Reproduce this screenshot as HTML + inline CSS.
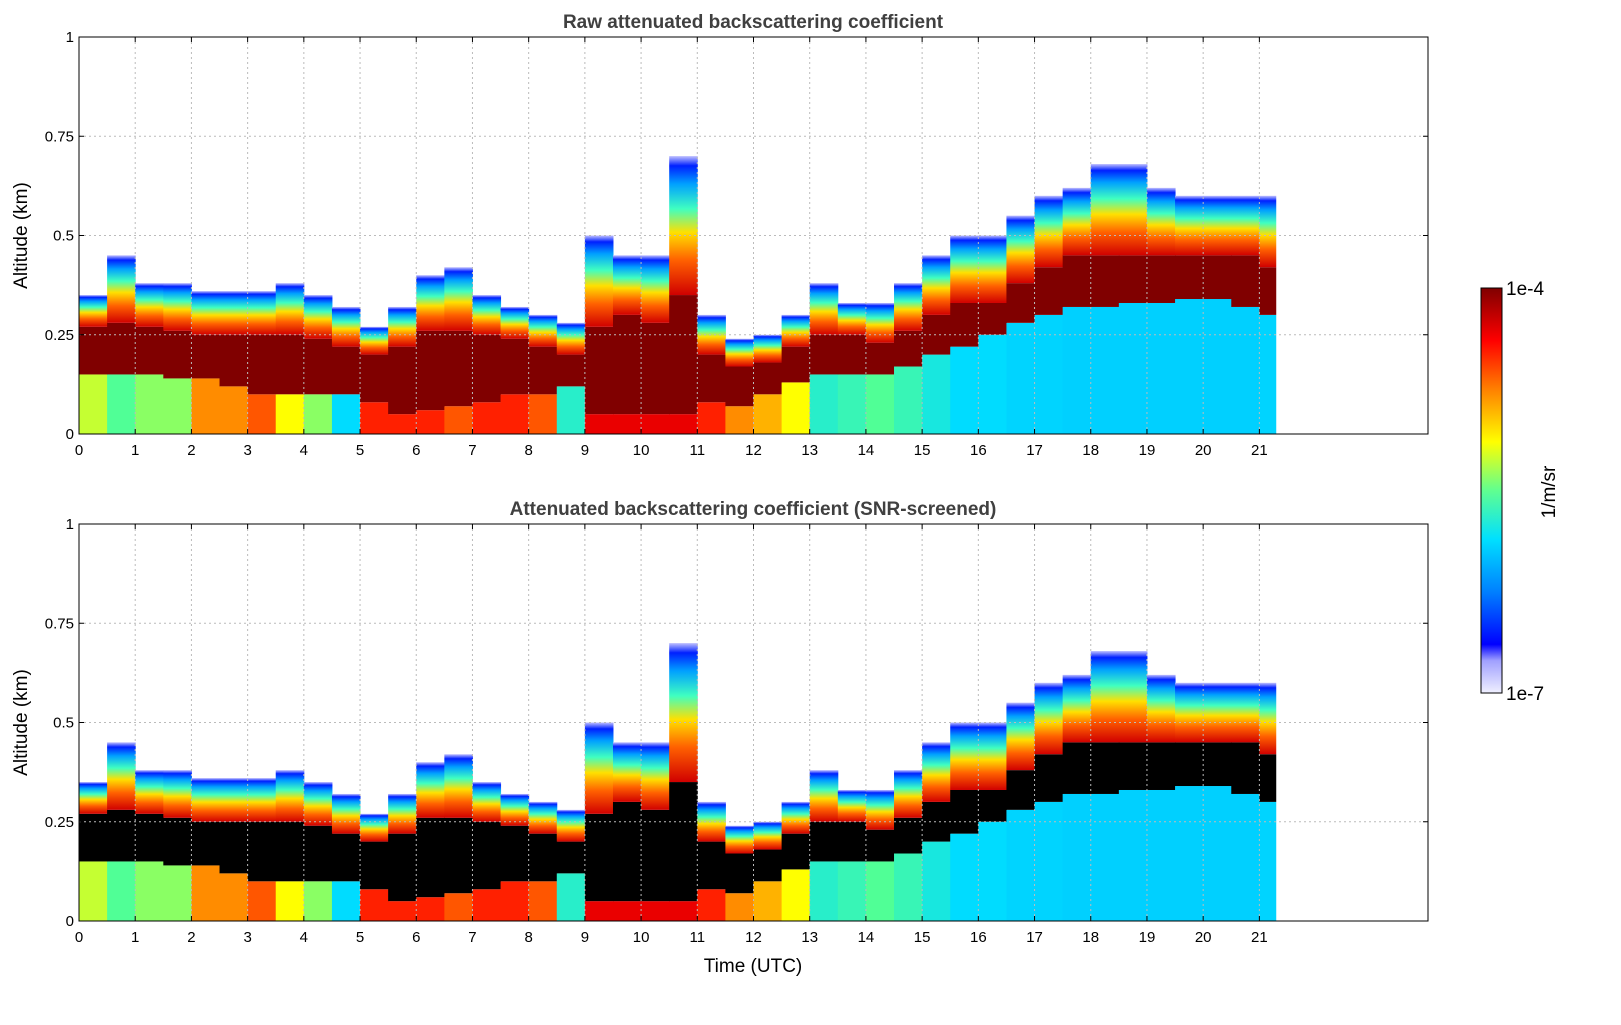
<!DOCTYPE html>
<html><head><meta charset="utf-8"><style>
body{margin:0;background:#fff;}
text{font-family:"Liberation Sans","DejaVu Sans",sans-serif;}
</style></head><body>
<svg id="chart" width="1621" height="1020" xmlns="http://www.w3.org/2000/svg">
<defs>
<linearGradient id="plume" x1="0" y1="1" x2="0" y2="0">
<stop offset="0" stop-color="#d00000"/><stop offset="0.25" stop-color="#ff6000"/>
<stop offset="0.45" stop-color="#ffe000"/><stop offset="0.62" stop-color="#40ffc0"/>
<stop offset="0.8" stop-color="#00a0ff"/><stop offset="0.93" stop-color="#0020ff"/>
<stop offset="1" stop-color="#c0c0ff"/></linearGradient>
<linearGradient id="cbar" x1="0" y1="1" x2="0" y2="0">
<stop offset="0" stop-color="#f0f0ff"/><stop offset="0.08" stop-color="#a0a0ff"/>
<stop offset="0.12" stop-color="#0000ff"/><stop offset="0.25" stop-color="#0080ff"/>
<stop offset="0.38" stop-color="#00e0ff"/><stop offset="0.5" stop-color="#60ff90"/>
<stop offset="0.62" stop-color="#ffff00"/><stop offset="0.75" stop-color="#ff8000"/>
<stop offset="0.87" stop-color="#ff0000"/><stop offset="1" stop-color="#800000"/></linearGradient>
</defs>
</svg>
<script>
const times=[0,0.5,1,1.5,2,2.5,3,3.5,4,4.5,5,5.5,6,6.5,7,7.5,8,8.5,9,9.5,10,10.5,11,11.5,12,12.5,13,13.5,14,14.5,15,15.5,16,16.5,17,17.5,18,18.5,19,19.5,20,20.5,21];
const layerTop=[.35,.45,.38,.38,.36,.36,.36,.38,.35,.32,.27,.32,.4,.42,.35,.32,.3,.28,.5,.45,.45,.7,.3,.24,.25,.3,.38,.33,.33,.38,.45,.5,.5,.55,.6,.62,.68,.68,.62,.6,.6,.6,.6];
const coreTop=[.27,.28,.27,.26,.25,.25,.25,.25,.24,.22,.2,.22,.26,.26,.25,.24,.22,.2,.27,.3,.28,.35,.2,.17,.18,.22,.25,.25,.23,.26,.3,.33,.33,.38,.42,.45,.45,.45,.45,.45,.45,.45,.42];
const coreBot=[.15,.15,.15,.14,.14,.12,.1,.1,.1,.1,.08,.05,.06,.07,.08,.1,.1,.12,.05,.05,.05,.05,.08,.07,.1,.13,.15,.15,.15,.17,.2,.22,.25,.28,.3,.32,.32,.33,.33,.34,.34,.32,.3];
const lowVal=[.55,.45,.5,.5,.75,.75,.8,.6,.5,.35,.85,.85,.85,.8,.85,.85,.8,.4,.9,.9,.9,.9,.85,.75,.7,.6,.4,.42,.45,.42,.38,.35,.35,.33,.33,.32,.32,.32,.32,.32,.32,.32,.33];
const xTicks=[0,1,2,3,4,5,6,7,8,9,10,11,12,13,14,15,16,17,18,19,20,21];
const yTicks=[0,0.25,0.5,0.75,1];
const yTickLabels=["0","0.25","0.5","0.75","1"];
const svg=document.getElementById('chart');
const NS='http://www.w3.org/2000/svg';
const X0=79,X1=1428;
const xs=t=>X0+(X1-X0)*t/24;
function mk(tag,attrs,parent){const e=document.createElementNS(NS,tag);for(const k in attrs)e.setAttribute(k,attrs[k]);(parent||svg).appendChild(e);return e;}
function jet(v){const stops=[[0,[0,0,255]],[.2,[0,160,255]],[.35,[0,220,255]],[.45,[80,255,150]],[.6,[255,255,0]],[.75,[255,140,0]],[.88,[255,0,0]],[1,[128,0,0]]];
for(let i=1;i<stops.length;i++){if(v<=stops[i][0]){const a=stops[i-1],b=stops[i],f=(v-a[0])/(b[0]-a[0]);return 'rgb('+a[1].map((c,j)=>Math.round(c+(b[1][j]-c)*f)).join(',')+')';}}return 'rgb(128,0,0)';}
function panel(Y0,Y1,title,coreColor,name){
  const ys=a=>Y1-(Y1-Y0)*a;
  const g=mk('g',{});
  const w=xs(0.5)-xs(0);
  for(let i=0;i<times.length;i++){
    const x=xs(times[i]);const cw=(i==times.length-1)?xs(21.3)-x:w+0.5;
    let r=mk('rect',{x:x,y:ys(coreBot[i]),width:cw,height:ys(0)-ys(coreBot[i]),fill:jet(lowVal[i])},g);
    
    r=mk('rect',{x:x,y:ys(coreTop[i]),width:cw,height:ys(coreBot[i])-ys(coreTop[i]),fill:coreColor},g);
    
    r=mk('rect',{x:x,y:ys(layerTop[i]),width:cw,height:ys(coreTop[i])-ys(layerTop[i]),fill:'url(#plume)'},g);
    
  }
  xTicks.forEach(t=>{const x=xs(t);
    if(t>0)mk('line',{x1:x,x2:x,y1:Y0,y2:Y1,stroke:'#bbb','stroke-dasharray':'2,3'},g);
    mk('line',{x1:x,x2:x,y1:Y1,y2:Y1-5,stroke:'#000'},g);mk('line',{x1:x,x2:x,y1:Y0,y2:Y0+5,stroke:'#000'},g);
    const tl=mk('text',{x:x,y:Y1+21,'font-size':15,'text-anchor':'middle'},g);tl.textContent=t;
    });
  yTicks.forEach((v,i)=>{const y=ys(v);
    if(v>0&&v<1)mk('line',{x1:X0,x2:X1,y1:y,y2:y,stroke:'#bbb','stroke-dasharray':'2,3'},g);
    mk('line',{x1:X0,x2:X0+5,y1:y,y2:y,stroke:'#000'},g);mk('line',{x1:X1,x2:X1-5,y1:y,y2:y,stroke:'#000'},g);
    const tl=mk('text',{x:X0-5,y:y+5,'font-size':15,'text-anchor':'end'},g);tl.textContent=yTickLabels[i];
    });
  mk('rect',{x:X0,y:Y0,width:X1-X0,height:Y1-Y0,fill:'none',stroke:'#000','stroke-width':1},g);
  const tt=mk('text',{x:753,y:Y0-9,'font-size':19,'font-weight':'bold',fill:'#404040','text-anchor':'middle'},g);tt.textContent=title;
  
  const yl=mk('text',{x:0,y:0,'font-size':19,'text-anchor':'middle',transform:'translate(27,'+((Y0+Y1)/2)+') rotate(-90)'},g);yl.textContent='Altitude (km)';
  
}
panel(37,434,'Raw attenuated backscattering coefficient','#800000','raw-backscatter-panel');
panel(524,921,'Attenuated backscattering coefficient (SNR-screened)','#000000','screened-backscatter-panel');
const xl=mk('text',{x:753,y:972,'font-size':19,'text-anchor':'middle'});xl.textContent='Time (UTC)';

const cb=mk('rect',{x:1481,y:288,width:21,height:405,fill:'url(#cbar)',stroke:'#000'});

const c1=mk('text',{x:1506,y:295,'font-size':19});c1.textContent='1e-4';

const c2=mk('text',{x:1506,y:700,'font-size':19});c2.textContent='1e-7';

const cu=mk('text',{x:0,y:0,'font-size':19,'text-anchor':'middle',transform:'translate(1555,492) rotate(-90)'});cu.textContent='1/m/sr';

</script>
</body></html>
